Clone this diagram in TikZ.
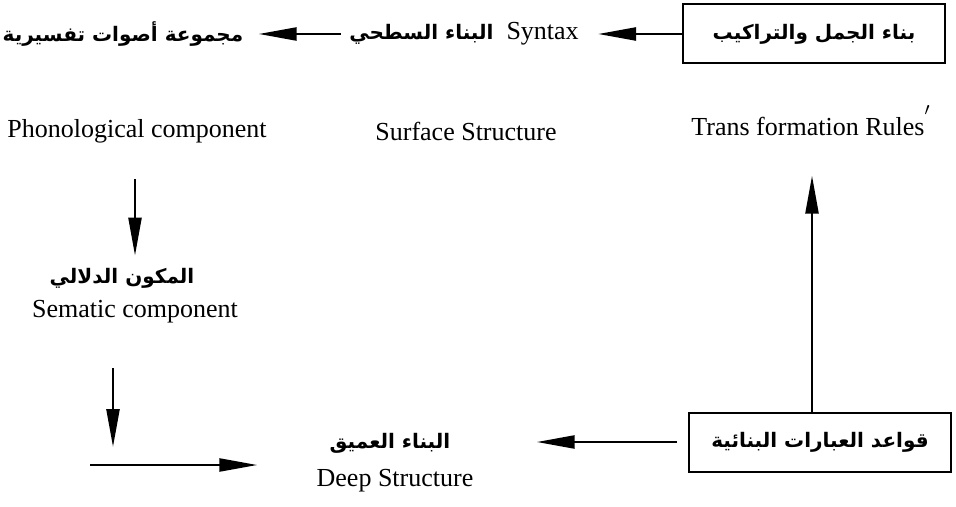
\documentclass[tikz,border=0pt]{standalone}
\usepackage{fontspec}
\setmainfont{Liberation Serif}
\newfontfamily\arabicfont[Script=Arabic]{DejaVu Sans}
\TeXXeTstate=1
\usetikzlibrary{arrows.meta}

\newcommand{\arabtext}[1]{{\arabicfont\bfseries\fontsize{10}{12}\selectfont\beginR #1\endR}}

\begin{document}
\begin{tikzpicture}[
		x=0.5pt, y=-0.5pt,
		every node/.style={inner sep=0pt, font=\fontsize{13}{15}\selectfont},
		rulebox/.style={draw, line width=1pt, minimum width=131pt, minimum height=29.5pt},
		flow/.style={line width=1.2pt, -{Triangle[length=19pt, width=6.5pt]}}
	]
  \useasboundingbox (0,0) rectangle (956,507);
  % top row
  \node (sounds) at (123,34) {\arabtext{مجموعة أصوات تفسيرية}};
  \node (syntax) at (464,34) {\arabtext{البناء السطحي}\ \ Syntax};
  \node (sentences) [rulebox] at (814,34) {\arabtext{بناء الجمل والتراكيب}};
  % english glosses
  \node (phon) at (137,131) {Phonological component};
  \node (surface) at (466,131) {Surface Structure};
  \node (trans) at (811,126) {Trans formation Rules\smash{\raisebox{0.9ex}{$'$}}};
  % semantic
  \node (semar) at (122,278) {\arabtext{المكون الدلالي}};
  \node (sem) at (135,312) {Sematic component};
  % deep structure
  \node (deepar) at (390,443) {\arabtext{البناء العميق}};
  \node (deep) at (395,481) {Deep Structure};
  \node (phrase) [rulebox] at (820,442) {\arabtext{قواعد العبارات البنائية}};
  \coordinate (semtail) at (113,368);
  \coordinate (deeptail) at (90,465);
  \draw[flow, shorten >=9.5pt] (sentences.west) -- (syntax.east);
  \draw[flow, shorten >=7.5pt, shorten <=4pt] (syntax.west) -- (sounds.east);
  \draw[flow, shorten <=18pt, shorten >=6pt] (phon.south -| 135,0) -- (semar.north -| 135,0);
  \draw[flow] (semtail) -- (semtail |- 0,447);
  \draw[flow] (deeptail) -- (deeptail -| deepar.west) [shorten >=36pt];
  \draw[flow, shorten <=5.5pt, shorten >=43pt] (phrase.west) -- (phrase.west -| deepar.east);
  \draw[flow, shorten >=20pt] ([xshift=-4pt]phrase.north) -- ([xshift=-4pt]phrase.north |- trans.south);
\end{tikzpicture}
\end{document}
